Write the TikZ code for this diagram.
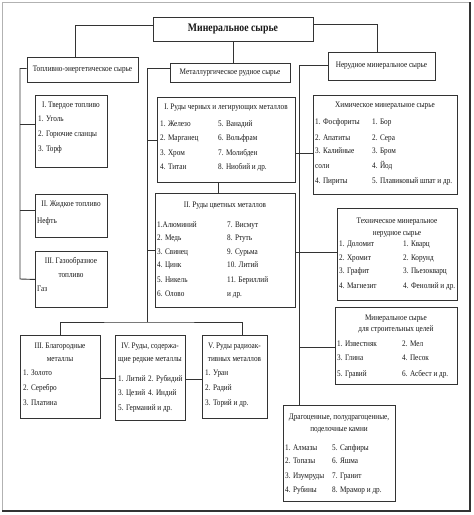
\documentclass[tikz,border=0pt]{standalone}
\usepackage{fontspec}
\setmainfont{Liberation Serif}[FakeStretch=0.85]
\begin{document}
\begin{tikzpicture}[x=1pt,y=-1pt,
  box/.style={draw=black!80,line width=0.9pt,rectangle,inner sep=0pt},
  nwbox/.style={box,anchor=north west},
  conn/.style={draw=black!80,line width=0.9pt},
  txt/.style={anchor=base west,inner sep=0pt,text=black!90,font=\fontsize{8.5}{10}\selectfont},
  ctxt/.style={txt,anchor=base}]
\newcommand\tx[4]{\node[txt] (#1) at (#2,#3) {#4};}
\newcommand\tc[4]{\node[ctxt] (#1) at (#2,#3) {#4};}
\useasboundingbox (0,0) rectangle (474,515);
\fill[white] (0,0) rectangle (474,515);
% frame
\draw[black!30,line width=0.6pt] (2,511) -- (2,2) -- (470,2);
\draw[black!80,line width=1.6pt] (470,2) -- (470,511) -- (2,511);
% level 0/1
\node[box,minimum width=160pt,minimum height=24pt,font=\bfseries\fontsize{11.5}{13}\selectfont,text=black!90] (top) at (233,29) {Минеральное сырье};
\node[box,minimum width=111pt,minimum height=25pt,font=\fontsize{8.5}{10}\selectfont,text=black!90] (fuel) at (82.5,69.5) {Топливно-энергетическое сырье};
\node[box,minimum width=120pt,minimum height=19pt,font=\fontsize{8.5}{10}\selectfont,text=black!90] (metal) at (230,72.5) {Металлургическое рудное сырье};
\node[box,minimum width=107pt,minimum height=28pt,font=\fontsize{8.5}{10}\selectfont,text=black!90] (nerud) at (381.5,66) {Нерудное минеральное сырье};
% boxes
\node[nwbox,minimum width=72pt,minimum height=72pt] (tv) at (35,95) {};
\node[nwbox,minimum width=72pt,minimum height=43pt] (zh) at (35,194) {};
\node[nwbox,minimum width=72pt,minimum height=56pt] (gaz) at (35,251) {};
\node[nwbox,minimum width=138pt,minimum height=85pt] (m1) at (157,97) {};
\node[nwbox,minimum width=140pt,minimum height=114pt] (m2) at (155,193) {};
\node[nwbox,minimum width=80pt,minimum height=83pt] (blag) at (20,335) {};
\node[nwbox,minimum width=70pt,minimum height=85pt] (redk) at (115,335) {};
\node[nwbox,minimum width=65pt,minimum height=83pt] (rad) at (202,335) {};
\node[nwbox,minimum width=144pt,minimum height=99pt] (chem) at (313,95) {};
\node[nwbox,minimum width=120pt,minimum height=92pt] (tech) at (337,208) {};
\node[nwbox,minimum width=122pt,minimum height=77pt] (stroi) at (335,307) {};
\node[nwbox,minimum width=112pt,minimum height=96pt] (kamni) at (283,405) {};
% coordinates
\coordinate (fbus) at (20,279);
\coordinate (mbus) at (147,322);
\coordinate (nbus) at ([xshift=16pt]kamni.north west);
% connectors
\draw[conn] ([yshift=4pt]top.west) -| ([xshift=-7.5pt]fuel.north);
\draw[conn] ([yshift=5pt]top.east) -| ([xshift=-4.5pt]nerud.north);
\draw[conn] (top.south) -- (top.south |- metal.north);
\draw[conn] ([yshift=1pt]fuel.west) -| (fbus) -- (gaz.west);
\draw[conn] ([yshift=7pt]tv.west) -- ([yshift=7pt]tv.west -| fbus);
\draw[conn] ([yshift=6pt]zh.west) -- ([yshift=6pt]zh.west -| fbus);
\draw[conn] ([yshift=4pt]metal.west) -| (mbus);
\draw[conn] (m1.west) -- (m1.west -| mbus);
\draw[conn] (m2.west) -- (m2.west -| mbus);
\draw[conn] ([xshift=-8pt]m1.south) -- ([xshift=-8pt]m1.south |- m2.north);
\draw[conn] (blag.north) |- (mbus) -| ([xshift=7.5pt]rad.north);
\draw[conn] ([yshift=-1.5pt]blag.east) -- ([yshift=-1.5pt]blag.east -| redk.west);
\draw[conn] ([yshift=-1.5pt]redk.east) -- ([yshift=-1.5pt]redk.east -| rad.west);
\draw[conn] ([yshift=1pt]nerud.west) -| (nbus);
\draw[conn] ([yshift=-8.5pt]chem.west -| m1.east) -- ([yshift=-8.5pt]chem.west);
\draw[conn] ([yshift=2pt]tech.west -| m2.east) -- ([yshift=2pt]tech.west);
\draw[conn] ([yshift=-1.5pt]stroi.west -| nbus) -- ([yshift=-1.5pt]stroi.west);
% texts: fuel
\tc{tvt}{71}{107}{I. Твердое топливо}
\tx{tv1}{38}{121}{1. Уголь}
\tx{tv2}{38}{136}{2. Горючие сланцы}
\tx{tv3}{38}{151}{3. Торф}
\tc{zht}{71}{206}{II. Жидкое топливо}
\tx{zh1}{37}{223}{Нефть}
\tc{gzt1}{71}{263}{III. Газообразное}
\tc{gzt2}{71}{277}{топливо}
\tx{gz1}{37}{291}{Газ}
% m1
\tc{m1t}{226}{109}{I. Руды черных и легирующих металлов}
\tx{m1a}{160}{126}{1. Железо}
\tx{m1b}{160}{140}{2. Марганец}
\tx{m1c}{160}{155}{3. Хром}
\tx{m1d}{160}{169}{4. Титан}
\tx{m1e}{218}{126}{5. Ванадий}
\tx{m1f}{218}{140}{6. Вольфрам}
\tx{m1g}{218}{155}{7. Молибден}
\tx{m1h}{218}{169}{8. Ниобий и др.}
% m2
\tc{m2t}{225}{207}{II. Руды цветных металлов}
\tx{m2a}{157}{227}{1.Алюминий}
\tx{m2b}{157}{240}{2. Медь}
\tx{m2c}{157}{254}{3. Свинец}
\tx{m2d}{157}{267}{4. Цинк}
\tx{m2e}{157}{282}{5. Никель}
\tx{m2f}{157}{296}{6. Олово}
\tx{m2g}{227}{227}{7. Висмут}
\tx{m2h}{227}{240}{8. Ртуть}
\tx{m2i}{227}{254}{9. Сурьма}
\tx{m2j}{227}{267}{10. Литий}
\tx{m2k}{227}{282}{11. Бериллий}
\tx{m2l}{227}{296}{и др.}
% chem
\tc{cht}{385}{107}{Химическое минеральное сырье}
\tx{ch1}{315}{124}{1. Фосфориты}
\tx{ch2}{315}{140}{2. Апатиты}
\tx{ch3}{315}{153}{3. Калийные}
\tx{ch4}{315}{168}{соли}
\tx{ch5}{315}{183}{4. Пириты}
\tx{ch6}{372}{124}{1. Бор}
\tx{ch7}{372}{140}{2. Сера}
\tx{ch8}{372}{153}{3. Бром}
\tx{ch9}{372}{168}{4. Йод}
\tx{ch10}{372}{183}{5. Плавиковый шпат и др.}
% tech
\tc{tet1}{397}{223}{Техническое минеральное}
\tc{tet2}{397}{235}{нерудное сырье}
\tx{te1}{339}{246}{1. Доломит}
\tx{te2}{339}{260}{2. Хромит}
\tx{te3}{339}{273}{3. Графит}
\tx{te4}{339}{288}{4. Магнезит}
\tx{te5}{403}{246}{1. Кварц}
\tx{te6}{403}{260}{2. Корунд}
\tx{te7}{403}{273}{3. Пьезокварц}
\tx{te8}{403}{288}{4. Фенолий и др.}
% stroi
\tc{stt1}{396}{320}{Минеральное сырье}
\tc{stt2}{396}{331}{для строительных целей}
\tx{st1}{337}{346}{1. Известняк}
\tx{st3}{337}{360}{3. Глина}
\tx{st5}{337}{376}{5. Гравий}
\tx{st2}{402}{346}{2. Мел}
\tx{st4}{402}{360}{4. Песок}
\tx{st6}{402}{376}{6. Асбест и др.}
% kamni
\tc{kat1}{339}{419}{Драгоценные, полудрагоценные,}
\tc{kat2}{339}{431}{поделочные камни}
\tx{ka1}{285}{450}{1. Алмазы}
\tx{ka2}{285}{463}{2. Топазы}
\tx{ka3}{285}{478}{3. Изумруды}
\tx{ka4}{285}{492}{4. Рубины}
\tx{ka5}{332}{450}{5. Сапфиры}
\tx{ka6}{332}{463}{6. Яшма}
\tx{ka7}{332}{478}{7. Гранит}
\tx{ka8}{332}{492}{8. Мрамор и др.}
% blag
\tc{blt1}{60}{348}{III. Благородные}
\tc{blt2}{60}{361}{металлы}
\tx{bl1}{23}{375}{1. Золото}
\tx{bl2}{23}{390}{2. Серебро}
\tx{bl3}{23}{405}{3. Платина}
% redk
\tc{ret1}{150}{348}{IV. Руды, содержа-}
\tc{ret2}{150}{361}{щие редкие металлы}
\tx{re1}{118}{381}{1. Литий}
\tx{re2}{148}{381}{2. Рубидий}
\tx{re3}{118}{395}{3. Цезий}
\tx{re4}{148}{395}{4. Индий}
\tx{re5}{118}{410}{5. Германий и др.}
% rad
\tc{rat1}{234.5}{348}{V. Руды радиоак-}
\tc{rat2}{234.5}{361}{тивных металлов}
\tx{ra1}{205}{375}{1. Уран}
\tx{ra2}{205}{390}{2. Радий}
\tx{ra3}{205}{405}{3. Торий и др.}
\end{tikzpicture}
\end{document}
